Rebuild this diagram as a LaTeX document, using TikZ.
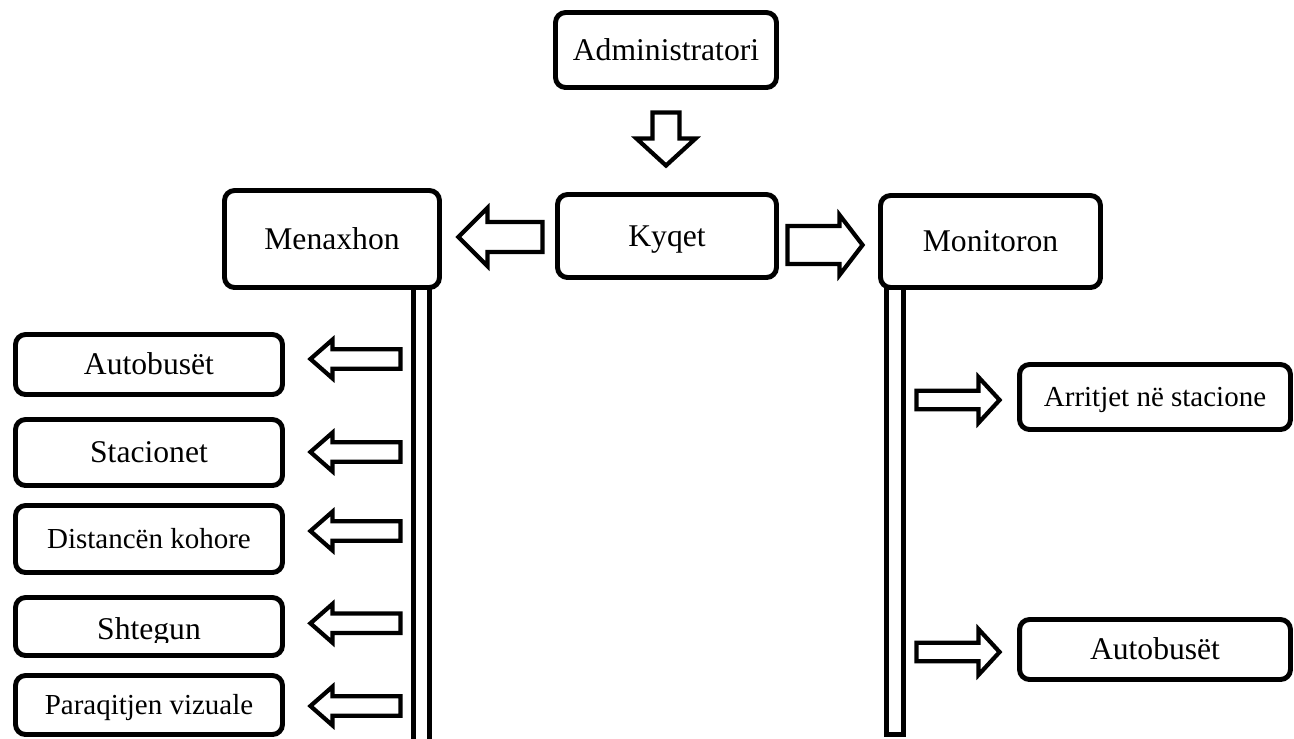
\documentclass[tikz,border=0pt]{standalone}
\usepackage{fontspec}
\setmainfont{Liberation Serif}
\usetikzlibrary{calc}
\tikzset{
  box/.style={draw, line width=2.8pt, rounded corners=0.2cm, inner sep=0pt,
    align=center, font=\fontsize{18}{21}\selectfont, text height=11.9pt, text depth=0pt},
  small/.style={font=\fontsize{16.5}{19}\selectfont, text height=10.9pt},
  outline/.style={draw, line width=2.4pt, fill=white, miter limit=10},
  bar/.style={draw, line width=2.6pt},
  % hollow block arrow, tip at the origin, pointing along +x
  % #1 length, #2 shaft half-width, #3 head half-width, #4 head length
  pics/blockarrow/.style n args={4}{code={
    \path[outline] (0,0) -- (-#4,#3) -- (-#4,#2) -- (-#1,#2) -- (-#1,-#2)
      -- (-#4,-#2) -- (-#4,-#3) -- cycle;
  }},
}
\begin{document}
\begin{tikzpicture}[x=0.02cm, y=-0.02cm]
\clip (0,0) rectangle (1294,738);
\fill[white] (0,0) rectangle (1294,738);

% vertical rails below the two branch boxes
\draw[bar] (413.5,288) rectangle (429.5,745);
\draw[bar] (886.5,288) rectangle (903.5,734.5);

% top row
\node[box, minimum width=4.42cm, minimum height=1.50cm] (admin) at (666,50) {Administratori};
\node[box, minimum width=4.38cm, minimum height=1.66cm] (kyqet) at (667,236) {Kyqet};
\node[box, minimum width=4.30cm, minimum height=1.94cm] (menaxhon) at (332,239) {Menaxhon};
\node[box, minimum width=4.40cm, minimum height=1.84cm] (monitoron) at (990.5,241.5) {Monitoron};

% managed items
\node[box, minimum width=5.34cm, minimum height=1.20cm] (autL) at (149,364.5) {Autobusët};
\node[box, minimum width=5.34cm, minimum height=1.32cm] (stac) at (149,452.5) {Stacionet};
\node[box, small, minimum width=5.34cm, minimum height=1.34cm] (dist) at (149,539) {Distancën kohore};
\node[box, minimum width=5.34cm, minimum height=1.16cm] (shteg) at (149,626.5) {};
\begin{scope}
  \clip (0,0) rectangle (1294,642.5);
  \node[box, draw=none] (shtegtext) at ($(shteg.center)+(0,2.5)$) {Shtegun};
\end{scope}
\node[box, small, minimum width=5.34cm, minimum height=1.18cm] (paraq) at (149,705) {Paraqitjen vizuale};

% monitored items
\node[box, small, minimum width=5.42cm, minimum height=1.30cm] (arr) at (1155,397) {Arritjet në stacione};
\node[box, minimum width=5.42cm, minimum height=1.20cm] (autR) at (1155,649.5) {Autobusët};

% block arrows
\pic[rotate=-90] (adown) at ($(kyqet.north)+(-1,-26.5)$) {blockarrow={53}{13.5}{29.5}{27}};
\pic[rotate=180] (aleft) at ($(menaxhon.east)+(16.5,-2)$) {blockarrow={84}{15}{29}{29}};
\pic (aright) at ($(monitoron.west)+(-15.5,3.5)$) {blockarrow={75}{19}{30}{23}};

\pic[rotate=180] (m1) at ($(autL.east)+(25.5,-5.5)$) {blockarrow={90}{9.75}{19.3}{22}};
\pic[rotate=180] (m2) at ($(stac.east)+(25.5,-0.5)$) {blockarrow={90}{9.75}{19.3}{22}};
\pic[rotate=180] (m3) at ($(dist.east)+(25.5,-8)$) {blockarrow={90}{9.75}{19.3}{22}};
\pic[rotate=180] (m4) at ($(shteg.east)+(25.5,-3.2)$) {blockarrow={90}{9.75}{19.3}{22}};
\pic[rotate=180] (m5) at ($(paraq.east)+(25.5,1)$) {blockarrow={90}{9.75}{19.3}{22}};

\pic (r1) at ($(arr.west)+(-17.5,3)$) {blockarrow={83}{9.2}{22.8}{21}};
\pic (r2) at ($(autR.west)+(-17.5,2.5)$) {blockarrow={83}{9.2}{22.8}{21}};
\end{tikzpicture}
\end{document}
